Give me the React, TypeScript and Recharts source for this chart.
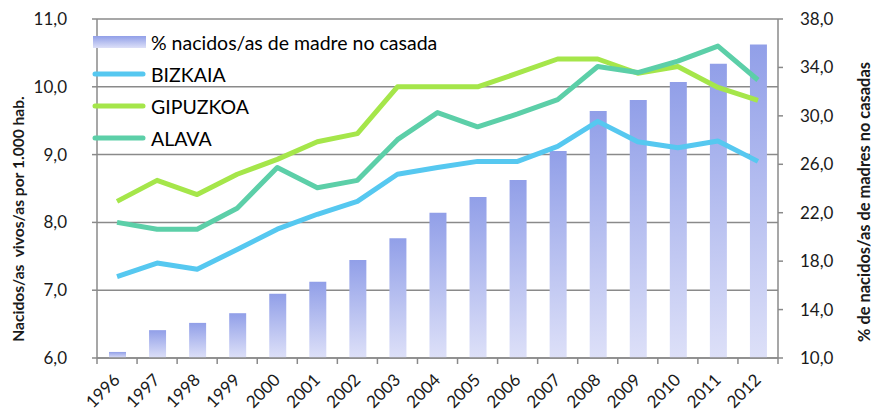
import {
  ComposedChart,
  Bar,
  Line,
  XAxis,
  YAxis,
  CartesianGrid,
  Legend,
} from 'recharts';

const years = [
  '1996', '1997', '1998', '1999', '2000', '2001', '2002', '2003', '2004',
  '2005', '2006', '2007', '2008', '2009', '2010', '2011', '2012',
];
// % nacidos/as de madre no casada (eje derecho)
const noCasada = [
  10.5, 12.3, 12.9, 13.7, 15.3, 16.3, 18.1, 19.9, 22.0,
  23.3, 24.7, 27.1, 30.4, 31.3, 32.8, 34.3, 35.9,
];
// Nacidos/as vivos/as por 1.000 hab. (eje izquierdo)
const bizkaia = [
  7.2, 7.4, 7.31, 7.6, 7.9, 8.12, 8.31, 8.71, 8.81,
  8.9, 8.9, 9.12, 9.49, 9.19, 9.1, 9.2, 8.9,
];
const gipuzkoa = [
  8.31, 8.62, 8.41, 8.71, 8.93, 9.19, 9.31, 10.0, 10.0,
  10.0, 10.2, 10.41, 10.41, 10.2, 10.3, 9.99, 9.8,
];
const alava = [
  8.0, 7.9, 7.9, 8.21, 8.81, 8.51, 8.62, 9.22, 9.62,
  9.41, 9.6, 9.81, 10.3, 10.21, 10.38, 10.6, 10.1,
];
const leftTicks = [6, 7, 8, 9, 10, 11];
const rightTicks = [10, 14, 18, 22, 26, 30, 34, 38];

const FONT = 'Lato, "Open Sans", sans-serif';
const COLORS = {
  bizkaia: '#56C8F0',
  gipuzkoa: '#A5E64A',
  alava: '#5CCFA8',
  grid: '#8a8a8a',
  text: '#1a1a1a',
};

const data = years.map((year, i) => ({
  year,
  noCasada: noCasada[i],
  bizkaia: bizkaia[i],
  gipuzkoa: gipuzkoa[i],
  alava: alava[i],
}));

const legendItems = [
  { key: 'noCasada', name: '% nacidos/as de madre no casada', type: 'bar' },
  { key: 'bizkaia', name: 'BIZKAIA', type: 'line', color: COLORS.bizkaia },
  { key: 'gipuzkoa', name: 'GIPUZKOA', type: 'line', color: COLORS.gipuzkoa },
  { key: 'alava', name: 'ALAVA', type: 'line', color: COLORS.alava },
];

const fmt = (v: number) => v.toFixed(1).replace('.', ',');

const YearTick = (props: any) => {
  const { x, y, payload, index, width, visibleTicksCount } = props;
  const half = width / visibleTicksCount / 2;
  const isLast = index === visibleTicksCount - 1;
  return (
    <g>
      <line x1={x - half} x2={x - half} y1={y} y2={y + 6} stroke={COLORS.grid} strokeWidth={1.5} />
      {isLast && (
        <line x1={x + half} x2={x + half} y1={y} y2={y + 6} stroke={COLORS.grid} strokeWidth={1.5} />
      )}
      <text
        x={x + 4}
        y={y + 23}
        transform={`rotate(-45, ${x + 4}, ${y + 23})`}
        textAnchor="end"
        fontSize={17}
        fontFamily={FONT}
        fill={COLORS.text}
      >
        {payload.value}
      </text>
    </g>
  );
};

const renderLegend = () => (
  <div style={{ fontFamily: FONT, fontSize: 19.5, color: '#000' }}>
    {legendItems.map((item) => (
      <div
        key={item.key}
        style={{ display: 'flex', alignItems: 'center', height: 32 }}
      >
        <svg width={56} height={14}>
          {item.type === 'bar' ? (
            <rect x={1} y={1} width={53} height={12} fill="url(#barGrad)" />
          ) : (
            <line
              x1={3}
              x2={51}
              y1={7}
              y2={7}
              stroke={item.color}
              strokeWidth={5}
              strokeLinecap="round"
            />
          )}
        </svg>
        <span style={{ marginLeft: 3, whiteSpace: 'nowrap' }}>{item.name}</span>
      </div>
    ))}
  </div>
);

const axisTitle = (text: string, cx: number, cy: number, size: number) => () => (
  <text
    x={cx}
    y={cy}
    transform={`rotate(-90, ${cx}, ${cy})`}
    textAnchor="middle"
    dominantBaseline="central"
    fontSize={size}
    fontWeight="bold"
    fontFamily={FONT}
    fill={COLORS.text}
    style={{ whiteSpace: 'pre' }}
  >
    {text}
  </text>
);

export default function App() {
  return (
    <div style={{ position: 'absolute', left: 0, top: 0, background: '#fff' }}>
      <ComposedChart
        width={871}
        height={412}
        data={data}
        margin={{ top: 19, right: 0, bottom: 14, left: 0 }}
      >
        <defs>
          <linearGradient id="barGrad" x1="0" y1="0" x2="0" y2="1">
            <stop offset="0%" stopColor="#919fe8" />
            <stop offset="100%" stopColor="#dde0f8" />
          </linearGradient>
        </defs>
        <CartesianGrid
          yAxisId="left"
          vertical={false}
          stroke={COLORS.grid}
          strokeWidth={1.5}
        />
        <XAxis
          dataKey="year"
          height={40}
          tickLine={false}
          tickSize={0}
          tickMargin={0}
          axisLine={{ stroke: COLORS.grid, strokeWidth: 1.5 }}
          tick={<YearTick />}
          interval={0}
        />
        <YAxis
          yAxisId="left"
          orientation="left"
          width={97}
          domain={[6, 11]}
          ticks={leftTicks}
          tickFormatter={fmt}
          tickSize={5}
          tickMargin={25}
          tickLine={{ stroke: COLORS.grid, strokeWidth: 1.5 }}
          axisLine={{ stroke: COLORS.grid, strokeWidth: 1.5 }}
          tick={{ fontSize: 17, fontFamily: FONT, fill: COLORS.text }}
          label={{ content: axisTitle('Nacidos/as  vivos/as por 1.000 hab.', 18, 219, 15.6) }}
        />
        <YAxis
          yAxisId="right"
          orientation="right"
          width={93}
          domain={[10, 38]}
          ticks={rightTicks}
          tickFormatter={fmt}
          tickSize={5}
          tickMargin={17}
          tickLine={{ stroke: COLORS.grid, strokeWidth: 1.5 }}
          axisLine={{ stroke: COLORS.grid, strokeWidth: 1.5 }}
          tick={{ fontSize: 17, fontFamily: FONT, fill: COLORS.text, textAnchor: 'start' }}
          label={{ content: axisTitle('% de nacidos/as de madres no casadas', 863, 202, 16.4) }}
        />
        <Legend
          layout="vertical"
          align="center"
          verticalAlign="middle"
          content={renderLegend}
          wrapperStyle={{ left: 92, top: 26, width: 420, height: 130 }}
        />
        <Bar
          yAxisId="right"
          dataKey="noCasada"
          name="% nacidos/as de madre no casada"
          fill="url(#barGrad)"
          barSize={17}
          isAnimationActive={false}
        />
        <Line
          yAxisId="left"
          dataKey="bizkaia"
          name="BIZKAIA"
          stroke={COLORS.bizkaia}
          strokeWidth={5}
          strokeLinejoin="round"
          dot={false}
          activeDot={false}
          isAnimationActive={false}
        />
        <Line
          yAxisId="left"
          dataKey="gipuzkoa"
          name="GIPUZKOA"
          stroke={COLORS.gipuzkoa}
          strokeWidth={5}
          strokeLinejoin="round"
          dot={false}
          activeDot={false}
          isAnimationActive={false}
        />
        <Line
          yAxisId="left"
          dataKey="alava"
          name="ALAVA"
          stroke={COLORS.alava}
          strokeWidth={5}
          strokeLinejoin="round"
          dot={false}
          activeDot={false}
          isAnimationActive={false}
        />
      </ComposedChart>
    </div>
  );
}
